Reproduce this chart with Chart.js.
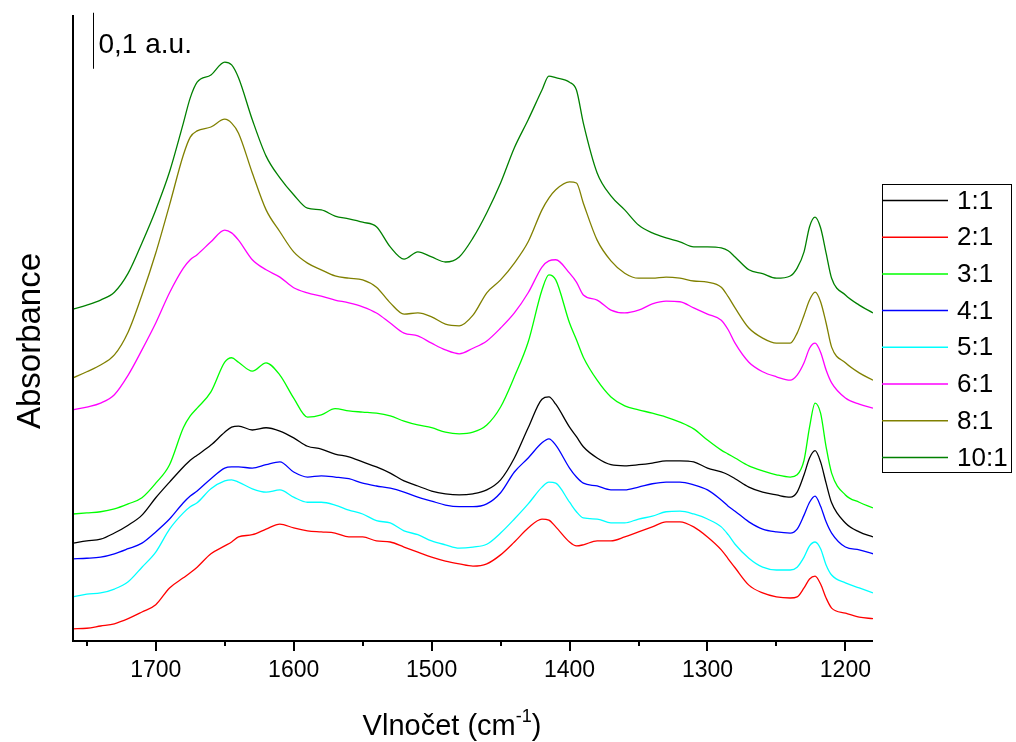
<!DOCTYPE html>
<html>
<head>
<meta charset="utf-8">
<title>Absorbance spectra</title>
<script src="https://cdn.jsdelivr.net/npm/chart.js@4.4.1/dist/chart.umd.min.js"></script>
<style>
  html, body { margin: 0; padding: 0; background: #fff; }
  #wrap { width: 1016px; height: 742px; position: relative; }
</style>
</head>
<body>
<div id="wrap"><canvas id="spectra"></canvas></div>
<script>
// wavenumber grid (cm-1), shared by all spectra
const wavenumbers = [1760,1750,1740,1730,1720,1710,1700,1690,1680,1675,1670,1660,1650,1645,1640,
  1630,1620,1610,1600,1590,1580,1570,1560,1550,1540,1530,1520,1510,1500,1490,1480,1470,1460,1450,1440,1430,1420,
  1415,1410,1400,1395,1390,
  1380,1370,1360,1350,1340,1330,1320,1310,1300,1290,
  1285,1280,1270,1260,1250,1240,
  1235,1230,1226,1222,1218,1214,1210,1200,1190,1180];

// absorbance (a.u.), spectra already offset for stacking
const abs11 = [0.173,0.177,0.180,0.191,0.205,0.223,0.254,0.282,0.309,0.321,0.330,0.348,0.371,0.380,0.382,
  0.375,0.379,0.373,0.361,0.346,0.341,0.332,0.327,0.318,0.309,0.298,0.284,0.275,0.266,0.261,0.259,0.261,0.268,0.286,0.325,0.379,0.430,
  0.434,0.421,0.380,0.363,0.345,
  0.325,0.313,0.311,0.313,0.316,0.320,0.320,0.318,0.307,0.300,
  0.295,0.288,0.273,0.264,0.259,0.255,
  0.264,0.295,0.325,0.338,0.318,0.280,0.245,0.209,0.193,0.184];
const abs21 = [0.020,0.021,0.025,0.029,0.038,0.050,0.063,0.093,0.111,0.120,0.130,0.154,0.168,0.175,0.184,
  0.188,0.198,0.207,0.200,0.195,0.193,0.191,0.184,0.184,0.177,0.175,0.166,0.157,0.148,0.141,0.136,0.132,0.136,0.152,0.175,0.200,0.216,
  0.214,0.202,0.175,0.168,0.170,
  0.177,0.177,0.184,0.193,0.202,0.211,0.211,0.202,0.184,0.161,
  0.145,0.129,0.098,0.084,0.077,0.075,
  0.077,0.093,0.109,0.114,0.100,0.075,0.057,0.048,0.041,0.038];
const abs31 = [0.225,0.227,0.229,0.234,0.243,0.254,0.280,0.313,0.379,0.400,0.414,0.443,0.496,0.504,0.496,
  0.480,0.495,0.473,0.432,0.398,0.402,0.413,0.409,0.407,0.405,0.400,0.391,0.384,0.379,0.371,0.368,0.371,0.384,0.416,0.470,0.532,0.625,
  0.652,0.643,0.566,0.536,0.505,
  0.464,0.434,0.418,0.411,0.405,0.398,0.389,0.377,0.357,0.339,
  0.332,0.325,0.311,0.302,0.295,0.291,
  0.295,0.321,0.380,0.423,0.405,0.345,0.298,0.259,0.246,0.236];
const abs41 = [0.145,0.146,0.148,0.154,0.163,0.173,0.193,0.216,0.245,0.257,0.266,0.288,0.307,0.309,0.309,
  0.307,0.313,0.318,0.300,0.291,0.293,0.291,0.288,0.280,0.275,0.271,0.264,0.255,0.248,0.241,0.238,0.238,0.243,0.263,0.300,0.325,0.352,
  0.359,0.348,0.307,0.291,0.280,
  0.275,0.268,0.268,0.273,0.279,0.282,0.282,0.277,0.268,0.250,
  0.239,0.230,0.211,0.198,0.193,0.191,
  0.198,0.223,0.246,0.257,0.239,0.211,0.191,0.166,0.161,0.154];
const abs51 = [0.077,0.082,0.084,0.091,0.104,0.130,0.157,0.198,0.227,0.238,0.245,0.270,0.284,0.286,0.282,
  0.270,0.264,0.268,0.255,0.246,0.246,0.241,0.232,0.225,0.213,0.209,0.195,0.188,0.177,0.170,0.164,0.166,0.171,0.191,0.216,0.243,0.273,
  0.282,0.280,0.246,0.229,0.218,
  0.216,0.209,0.209,0.216,0.221,0.229,0.230,0.225,0.216,0.202,
  0.188,0.171,0.146,0.130,0.125,0.125,
  0.130,0.148,0.168,0.175,0.163,0.134,0.116,0.102,0.093,0.084];
const abs61 = [0.411,0.416,0.423,0.438,0.473,0.518,0.566,0.620,0.664,0.679,0.688,0.711,0.732,0.727,0.714,
  0.679,0.661,0.648,0.629,0.620,0.614,0.607,0.602,0.595,0.584,0.566,0.548,0.543,0.530,0.518,0.511,0.521,0.534,0.557,0.584,0.620,0.666,
  0.677,0.679,0.655,0.639,0.616,
  0.607,0.589,0.584,0.589,0.600,0.605,0.604,0.593,0.582,0.571,
  0.554,0.530,0.496,0.479,0.470,0.464,
  0.473,0.495,0.521,0.530,0.514,0.482,0.459,0.432,0.421,0.414];
const abs81 = [0.468,0.479,0.491,0.509,0.550,0.616,0.691,0.777,0.866,0.898,0.909,0.916,0.930,0.923,0.905,
  0.834,0.768,0.729,0.693,0.673,0.661,0.650,0.646,0.643,0.630,0.602,0.582,0.584,0.577,0.564,0.561,0.580,0.620,0.643,0.673,0.711,0.768,
  0.789,0.804,0.818,0.816,0.780,
  0.714,0.677,0.655,0.646,0.646,0.648,0.646,0.641,0.639,0.630,
  0.613,0.593,0.557,0.539,0.530,0.530,
  0.548,0.580,0.607,0.621,0.604,0.566,0.523,0.495,0.477,0.464];
const abs101 = [0.591,0.598,0.607,0.621,0.655,0.709,0.768,0.836,0.923,0.968,0.996,1.009,1.032,1.027,1.004,
  0.929,0.864,0.825,0.795,0.771,0.768,0.757,0.752,0.746,0.738,0.702,0.680,0.693,0.684,0.675,0.684,0.718,0.763,0.816,0.879,0.929,0.982,
  1.007,1.004,0.996,0.982,0.923,
  0.834,0.793,0.768,0.741,0.727,0.718,0.711,0.702,0.702,0.700,
  0.695,0.684,0.661,0.654,0.646,0.650,
  0.664,0.693,0.738,0.755,0.736,0.691,0.646,0.616,0.598,0.584];

const seriesLabels = ["1:1", "2:1", "3:1", "4:1", "5:1", "6:1", "8:1", "10:1"];
const seriesValues = [abs11, abs21, abs31, abs41, abs51, abs61, abs81, abs101];
const seriesColors = ["#000000", "#ff0000", "#00ff00", "#0000ff", "#00ffff", "#ff00ff", "#808000", "#008000"];

// x axis: major ticks labelled, minor ticks in between
const majorTicks = [1700, 1600, 1500, 1400, 1300, 1200];
const minorTicks = [1750, 1650, 1550, 1450, 1350, 1250];

// scale bar: 0.1 a.u. drawn from this absorbance upwards
const scaleBarBase = 1.02;
const scaleBarSize = 0.1;

const FONT = "Liberation Sans, Arial, Helvetica, sans-serif";

const decorations = {
  id: "decorations",
  afterDraw(chart) {
    const { ctx, chartArea: area } = chart;
    const x = chart.scales.x;
    const y = chart.scales.y;
    ctx.save();
    ctx.strokeStyle = "#000";
    ctx.fillStyle = "#000";

    // axis lines
    ctx.lineWidth = 2;
    ctx.beginPath();
    ctx.moveTo(area.left, area.top);
    ctx.lineTo(area.left, area.bottom + 1);
    ctx.lineTo(area.right, area.bottom + 1);
    ctx.stroke();

    // tick marks pointing out of the plot
    majorTicks.forEach((v) => {
      const px = Math.round(x.getPixelForValue(v));
      ctx.beginPath();
      ctx.moveTo(px, area.bottom);
      ctx.lineTo(px, area.bottom + 11);
      ctx.stroke();
    });
    minorTicks.forEach((v) => {
      const px = Math.round(x.getPixelForValue(v));
      ctx.beginPath();
      ctx.moveTo(px, area.bottom);
      ctx.lineTo(px, area.bottom + 6);
      ctx.stroke();
    });

    // scale bar
    const barX = area.left + 20.5;
    ctx.lineWidth = 1;
    ctx.beginPath();
    ctx.moveTo(barX, y.getPixelForValue(scaleBarBase));
    ctx.lineTo(barX, y.getPixelForValue(scaleBarBase + scaleBarSize));
    ctx.stroke();
    ctx.font = "28px " + FONT;
    ctx.textAlign = "left";
    ctx.textBaseline = "alphabetic";
    ctx.fillText("0,1 a.u.", barX + 5, 53);

    // axis titles
    ctx.save();
    ctx.translate(40, 341);
    ctx.rotate(-Math.PI / 2);
    ctx.font = "33px " + FONT;
    ctx.textAlign = "center";
    ctx.fillText("Absorbance", 0, 0);
    ctx.restore();

    const main = "Vlnočet (cm";
    ctx.font = "29px " + FONT;
    const wMain = ctx.measureText(main).width;
    ctx.font = "18px " + FONT;
    const wSup = ctx.measureText("-1").width;
    ctx.font = "29px " + FONT;
    const wEnd = ctx.measureText(")").width;
    let tx = 452 - (wMain + wSup + wEnd) / 2;
    ctx.textAlign = "left";
    ctx.fillText(main, tx, 735);
    tx += wMain;
    ctx.font = "18px " + FONT;
    ctx.fillText("-1", tx, 722);
    tx += wSup;
    ctx.font = "29px " + FONT;
    ctx.fillText(")", tx, 735);

    // legend
    const box = { left: 882, top: 184, right: 1011, bottom: 472 };
    ctx.lineWidth = 1;
    ctx.strokeRect(box.left + 0.5, box.top + 0.5, box.right - box.left, box.bottom - box.top);
    ctx.font = "26px " + FONT;
    ctx.textBaseline = "middle";
    chart.data.datasets.forEach((ds, i) => {
      const ly = box.top + 16.5 + i * 36.7;
      ctx.strokeStyle = ds.borderColor;
      ctx.lineWidth = 1.5;
      ctx.beginPath();
      ctx.moveTo(box.left, ly);
      ctx.lineTo(box.left + 66, ly);
      ctx.stroke();
      ctx.fillStyle = "#000";
      ctx.fillText(ds.label, box.left + 75, ly + 1);
    });
    ctx.restore();
  },
};

new Chart(document.getElementById("spectra"), {
  type: "line",
  data: {
    datasets: seriesLabels.map((label, i) => ({
      label,
      data: wavenumbers.map((w, j) => ({ x: w, y: seriesValues[i][j] })),
      borderColor: seriesColors[i],
      borderWidth: 1.3,
      pointRadius: 0,
      fill: false,
      cubicInterpolationMode: "monotone",
    })),
  },
  options: {
    responsive: true,
    maintainAspectRatio: false,
    devicePixelRatio: 1,
    animation: false,
    layout: { padding: { left: 73, right: 143, top: 15, bottom: 0 } },
    plugins: { legend: { display: false }, tooltip: { enabled: false } },
    scales: {
      x: {
        type: "linear",
        reverse: true,
        min: 1180,
        max: 1760,
        afterBuildTicks: (scale) => {
          scale.ticks = majorTicks.map((v) => ({ value: v }));
        },
        afterFit: (scale) => {
          scale.height = 102;
        },
        grid: { display: false, drawTicks: false },
        border: { display: false },
        ticks: {
          autoSkip: false,
          maxRotation: 0,
          padding: 17,
          color: "#000",
          font: { family: FONT, size: 23 },
          callback: (value) => String(value),
        },
      },
      y: {
        display: false,
        min: 0,
        max: 1.116,
      },
    },
  },
  plugins: [decorations],
});
</script>
</body>
</html>
